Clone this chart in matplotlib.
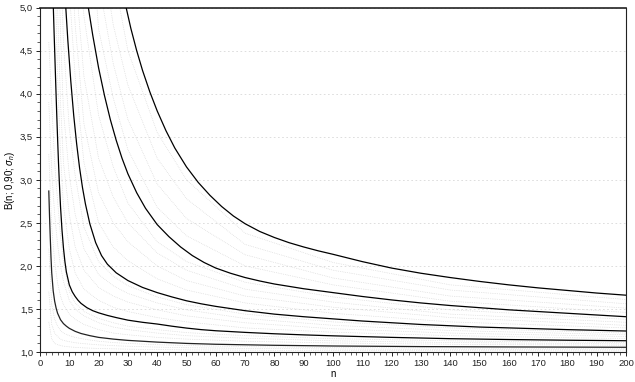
import numpy as np
import matplotlib
matplotlib.use("Agg")
import matplotlib.pyplot as plt
from matplotlib.ticker import MultipleLocator, FuncFormatter

plt.rcParams['font.family'] = ['Liberation Sans', 'DejaVu Sans']
plt.rcParams['mathtext.fontset'] = 'custom'
plt.rcParams['mathtext.rm'] = 'Liberation Sans'
plt.rcParams['mathtext.it'] = 'Liberation Sans:italic'

# ---- main (black) curves ----
a_n = [3.0, 3.25, 3.5, 3.75, 4.0, 4.5, 5.0, 5.5, 6.0, 7.0, 8.0, 9.0, 10, 12, 14, 17, 20, 25, 30, 40, 50, 60, 80, 100, 130, 160, 200]
a_B = [2.87, 2.58, 2.33, 2.10, 1.92, 1.71, 1.59, 1.51, 1.45, 1.375, 1.33, 1.30, 1.275, 1.24, 1.215, 1.19, 1.17, 1.15, 1.135, 1.115, 1.10, 1.09, 1.078, 1.07, 1.063, 1.059, 1.055]

b_n = [4.55, 4.8, 5.1, 5.4, 5.7, 6.0, 6.3, 6.6, 7.0, 7.5, 8.0, 8.5, 9.0, 10, 11, 12, 13, 14, 16, 18, 20, 23, 26, 30, 35, 40, 45, 50, 55, 60, 70, 80, 90, 100, 120, 140, 160, 180, 200]
b_B = [5.0, 4.72, 4.40, 4.08, 3.77, 3.48, 3.21, 2.97, 2.69, 2.42, 2.21, 2.05, 1.93, 1.78, 1.70, 1.645, 1.60, 1.565, 1.515, 1.48, 1.455, 1.425, 1.40, 1.37, 1.345, 1.325, 1.30, 1.278, 1.26, 1.247, 1.228, 1.212, 1.199, 1.188, 1.17, 1.155, 1.145, 1.137, 1.131]

c_n = [8.8, 9.5, 10.5, 11.5, 12.5, 13.5, 14.5, 15.5, 17, 19, 21, 23, 26, 30, 35, 40, 45, 50, 55, 60, 70, 80, 90, 100, 110, 120, 130, 140, 150, 160, 170, 180, 190, 200]
c_B = [5.0, 4.62, 4.15, 3.75, 3.42, 3.14, 2.91, 2.72, 2.49, 2.27, 2.12, 2.02, 1.92, 1.83, 1.75, 1.69, 1.64, 1.595, 1.56, 1.53, 1.48, 1.44, 1.41, 1.385, 1.36, 1.34, 1.32, 1.305, 1.29, 1.28, 1.27, 1.26, 1.252, 1.244]

d_n = [16.5, 18, 20, 22, 24, 26, 28, 30, 33, 36, 40, 44, 48, 52, 56, 60, 65, 70, 75, 80, 90, 100, 110, 120, 130, 140, 150, 160, 170, 180, 190, 200]
d_B = [5.0, 4.68, 4.30, 3.98, 3.70, 3.46, 3.25, 3.07, 2.85, 2.67, 2.48, 2.34, 2.22, 2.12, 2.04, 1.975, 1.915, 1.865, 1.825, 1.79, 1.735, 1.69, 1.645, 1.605, 1.57, 1.54, 1.515, 1.49, 1.47, 1.45, 1.43, 1.41]

e_n = [29.4, 31, 33, 35, 37.5, 40, 43, 46, 50, 54, 58, 62, 66, 70, 75, 80, 85, 90, 95, 100, 110, 120, 130, 140, 150, 160, 170, 180, 190, 200]
e_B = [5.0, 4.76, 4.50, 4.27, 4.02, 3.80, 3.57, 3.37, 3.15, 2.97, 2.82, 2.69, 2.58, 2.49, 2.40, 2.33, 2.27, 2.22, 2.175, 2.135, 2.05, 1.975, 1.915, 1.865, 1.82, 1.78, 1.745, 1.715, 1.685, 1.66]

# ---- faint dotted intermediate curves (estimated) ----
grid_n = [3, 4, 5, 6, 7, 8, 10, 12, 15, 20, 25, 30, 40, 50, 70, 100, 140, 200]
N = None
gray_0a1 = [2.2, 1.55, 1.38, 1.3, 1.25, 1.22, 1.19, 1.17, 1.15, 1.125, 1.11, 1.1, 1.085, 1.075, 1.062, 1.053, 1.046, 1.04]
gray_0a2 = [1.7, 1.32, 1.22, 1.18, 1.15, 1.135, 1.12, 1.108, 1.097, 1.083, 1.074, 1.067, 1.057, 1.05, 1.042, 1.035, 1.03, 1.026]
gray_0a3 = [1.35, 1.15, 1.1, 1.085, 1.075, 1.068, 1.06, 1.054, 1.048, 1.041, 1.037, 1.033, 1.028, 1.025, 1.021, 1.017, 1.015, 1.013]
gray_ab1 = [3.3, 2.45, 2.05, 1.8, 1.65, 1.55, 1.44, 1.38, 1.32, 1.26, 1.22, 1.2, 1.17, 1.15, 1.125, 1.105, 1.09, 1.078]
gray_ab2 = [3.9, 3.1, 2.6, 2.25, 2.0, 1.82, 1.6, 1.5, 1.42, 1.34, 1.29, 1.26, 1.22, 1.19, 1.16, 1.13, 1.11, 1.094]
gray_ab3 = [4.6, 3.9, 3.2, 2.75, 2.35, 2.05, 1.7, 1.57, 1.47, 1.39, 1.34, 1.3, 1.26, 1.225, 1.19, 1.155, 1.13, 1.11]
gray_bc1 = [N, 7.0, 5.6, 4.2, 3.3, 2.7, 2.2, 1.92, 1.73, 1.6, 1.52, 1.47, 1.40, 1.35, 1.28, 1.23, 1.19, 1.155]
gray_bc2 = [N, N, 6.5, 5.0, 3.9, 3.2, 2.6, 2.22, 1.95, 1.75, 1.65, 1.58, 1.49, 1.42, 1.34, 1.27, 1.22, 1.18]
gray_bc3 = [N, N, N, 6.0, 4.7, 3.8, 3.05, 2.6, 2.2, 1.9, 1.77, 1.68, 1.57, 1.49, 1.39, 1.31, 1.25, 1.20]
gray_bc4 = [N, N, N, 7.2, 5.7, 4.6, 3.6, 3.05, 2.45, 2.05, 1.88, 1.77, 1.64, 1.55, 1.44, 1.35, 1.28, 1.22]
gray_cd1 = [N, N, N, N, N, 6.5, 5.2, 4.2, 3.2, 2.5, 2.22, 2.06, 1.85, 1.72, 1.57, 1.45, 1.35, 1.28]
gray_cd2 = [N, N, N, N, N, N, 6.0, 4.8, 3.65, 2.85, 2.5, 2.28, 2.0, 1.83, 1.65, 1.52, 1.40, 1.31]
gray_cd3 = [N, N, N, N, N, N, 7.0, 5.4, 4.2, 3.25, 2.8, 2.5, 2.15, 1.95, 1.73, 1.58, 1.44, 1.345]
gray_cd4 = [N, N, N, N, N, N, N, 6.2, 4.9, 3.75, 3.15, 2.73, 2.28, 2.05, 1.81, 1.64, 1.49, 1.38]
gray_de1 = [N, N, N, N, N, N, N, N, 7.0, 4.75, 3.95, 3.35, 2.68, 2.35, 2.0, 1.78, 1.59, 1.46]
gray_de2 = [N, N, N, N, N, N, N, N, 8.0, 5.3, 4.35, 3.7, 2.95, 2.55, 2.13, 1.86, 1.65, 1.51]
gray_de3 = [N, N, N, N, N, N, N, N, N, 5.9, 4.8, 4.1, 3.25, 2.78, 2.25, 1.95, 1.72, 1.56]
gray_de4 = [N, N, N, N, N, N, N, N, N, 6.6, 5.4, 4.5, 3.55, 3.0, 2.38, 2.04, 1.78, 1.61]

gray_curves = [gray_0a1, gray_0a2, gray_0a3, gray_ab1, gray_ab2, gray_ab3,
               gray_bc1, gray_bc2, gray_bc3, gray_bc4, gray_cd1, gray_cd2, gray_cd3, gray_cd4,
               gray_de1, gray_de2, gray_de3, gray_de4]

fig = plt.figure(figsize=(6.35, 3.82), dpi=100)
ax = fig.add_axes([0.063, 0.0785, 0.9228, 0.9015])

gx = np.array(grid_n, dtype=float)
for g in gray_curves:
    gy = np.array([np.nan if v is None else v for v in g], dtype=float)
    ax.plot(gx, gy, color='#d2d2d2', lw=0.5, ls=(0, (1, 1.6)), zorder=1)

ax.plot(a_n, a_B, color='#222222', lw=0.9, zorder=3)
for xs, ys in [(b_n, b_B), (c_n, c_B), (d_n, d_B), (e_n, e_B)]:
    ax.plot(xs, ys, color='black', lw=0.9, zorder=3)

ax.set_xlim(0, 200)
ax.set_ylim(1.0, 5.0)
ax.xaxis.set_major_locator(MultipleLocator(10))
ax.xaxis.set_minor_locator(MultipleLocator(2))
ax.yaxis.set_major_locator(MultipleLocator(0.5))
ax.yaxis.set_minor_locator(MultipleLocator(0.1))
ax.yaxis.set_major_formatter(FuncFormatter(lambda v, p: f'{v:.1f}'.replace('.', ',')))
ax.xaxis.set_major_formatter(FuncFormatter(lambda v, p: f'{v:.0f}'))
ax.tick_params(which='major', direction='out', length=3, width=0.7, labelsize=6.8, colors='#222222', pad=2)
ax.tick_params(which='minor', direction='out', length=2, width=0.6, colors='#444444')
ax.grid(axis='y', which='major', color='#d8d8d8', lw=0.6, ls=(0, (2, 3)), zorder=0)
for s in ax.spines.values():
    s.set_linewidth(0.8)
    s.set_color('#222222')
ax.spines['top'].set_linewidth(1.2)

ax.set_xlabel('n', fontsize=7, labelpad=1)
ax.set_ylabel(r'B(n; 0,90; $\sigma_n$)', fontsize=7, labelpad=2)

fig.savefig('out.png', dpi=100)
